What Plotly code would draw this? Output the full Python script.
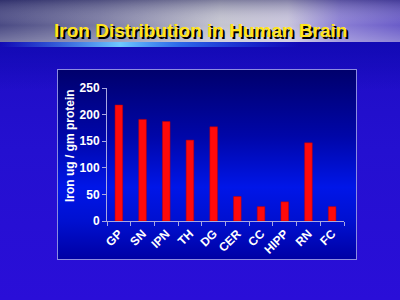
import base64
import plotly.graph_objects as go

# ---- data ----
categories = ["GP", "SN", "IPN", "TH", "DG", "CER", "CC", "HIPP", "RN", "FC"]
iron_values = [218, 191, 187, 152, 177, 46, 27, 36, 147, 27]
y_ticks = [0, 50, 100, 150, 200, 250]
title_text = "Iron Distribution in Human Brain"
y_title = "Iron ug / gm protein"

W, H = 400, 300

# ---- background artwork (slide) as SVG image ----
svg = f"""<svg xmlns='http://www.w3.org/2000/svg' width='{W}' height='{H}' viewBox='0 0 {W} {H}' preserveAspectRatio='none'>
<defs>
<linearGradient id='bg' x1='0' y1='0' x2='0' y2='1'>
<stop offset='0' stop-color='#1c0cc0'/><stop offset='0.5' stop-color='#2410d0'/><stop offset='1' stop-color='#2a0ed8'/>
</linearGradient>
<linearGradient id='under' x1='0' y1='0' x2='0' y2='1'>
<stop offset='0' stop-color='#120ab4' stop-opacity='1'/><stop offset='1' stop-color='#120ab4' stop-opacity='0'/>
</linearGradient>
<linearGradient id='band' x1='0' y1='0' x2='1' y2='0'>
<stop offset='0' stop-color='#4a4a84'/><stop offset='0.25' stop-color='#7a7aa2'/>
<stop offset='0.55' stop-color='#c4c4d0'/><stop offset='0.72' stop-color='#c8c4dc'/>
<stop offset='0.85' stop-color='#8a7ed4'/><stop offset='1' stop-color='#6a5cc8'/>
</linearGradient>
<linearGradient id='bandv' x1='0' y1='0' x2='0' y2='1'>
<stop offset='0' stop-color='#000040' stop-opacity='0.35'/><stop offset='0.6' stop-color='#ffffff' stop-opacity='0'/>
<stop offset='1' stop-color='#ffffff' stop-opacity='0.25'/>
</linearGradient>
<linearGradient id='streak' x1='0' y1='0' x2='1' y2='0'>
<stop offset='0' stop-color='#40a0ff' stop-opacity='0'/><stop offset='0.4' stop-color='#70c8ff' stop-opacity='1'/>
<stop offset='0.6' stop-color='#3890ff' stop-opacity='0.7'/><stop offset='1' stop-color='#2060ff' stop-opacity='0'/>
</linearGradient>
<linearGradient id='box' x1='0' y1='0' x2='0' y2='1'>
<stop offset='0' stop-color='#00006c'/><stop offset='0.35' stop-color='#0006a8'/>
<stop offset='0.62' stop-color='#0016e8'/><stop offset='0.8' stop-color='#0010d0'/>
<stop offset='1' stop-color='#0000a4'/>
</linearGradient>
</defs>
<rect x='0' y='0' width='{W}' height='{H}' fill='url(#bg)'/>
<rect x='0' y='42' width='{W}' height='48' fill='url(#under)'/>
<rect x='0' y='0' width='{W}' height='42' fill='url(#band)'/>
<rect x='0' y='0' width='{W}' height='42' fill='url(#bandv)'/>
<rect x='0' y='42' width='300' height='5' fill='url(#streak)'/>
<rect x='57.5' y='69.5' width='299' height='190' fill='url(#box)' stroke='#8c8ce0' stroke-width='1'/>
</svg>"""
svg_uri = "data:image/svg+xml;base64," + base64.b64encode(svg.encode()).decode()

fig = go.Figure()
fig.add_trace(go.Bar(
    x=categories, y=iron_values,
    marker=dict(color="#ff0a0a", line=dict(color="#c00000", width=0.5)),
    width=0.32,
))

axis_col = "#a8a8e0"
font_fam = "Liberation Sans, Arial, sans-serif"
fig.update_layout(
    width=W, height=H, autosize=False,
    margin=dict(l=0, r=0, t=0, b=0, pad=0, autoexpand=False),
    paper_bgcolor="#2410d0",
    plot_bgcolor="rgba(0,0,0,0)",
    showlegend=False,
    font=dict(family=font_fam, color="white"),
    images=[dict(source=svg_uri, xref="paper", yref="paper", x=0, y=1,
                 sizex=1, sizey=1, sizing="stretch", layer="below")],
    xaxis=dict(
        domain=[107 / W, 344 / W], automargin=False,
        showline=True, linecolor=axis_col, linewidth=1,
        ticks="outside", tickson="boundaries", ticklen=4, tickcolor=axis_col,
        tickangle=-45,
        tickfont=dict(size=12, color="white", weight="bold"),
        showgrid=False, zeroline=False, fixedrange=True,
    ),
    yaxis=dict(
        domain=[1 - 221 / H, 1 - 88 / H], automargin=False,
        range=[0, 250],
        tickvals=y_ticks,
        showline=True, linecolor=axis_col, linewidth=1,
        ticks="outside", ticklen=4, tickcolor=axis_col,
        tickfont=dict(size=12, color="white", weight="bold"),
        showgrid=False, zeroline=False, fixedrange=True,
    ),
    annotations=[
        dict(text=title_text, xref="paper", yref="paper", x=0.5, y=1 - 31 / H,
             xanchor="center", yanchor="middle", showarrow=False,
             font=dict(family=font_fam, size=19, color="#ffe41c", weight="bold",
                       shadow="2px 2px 0px #000000")),
        dict(text=y_title, xref="paper", yref="paper", x=70 / W, y=1 - 146 / H,
             xanchor="center", yanchor="middle", showarrow=False, textangle=-90,
             font=dict(family=font_fam, size=12, color="white", weight="bold")),
    ],
)

fig.write_html("out.html")
